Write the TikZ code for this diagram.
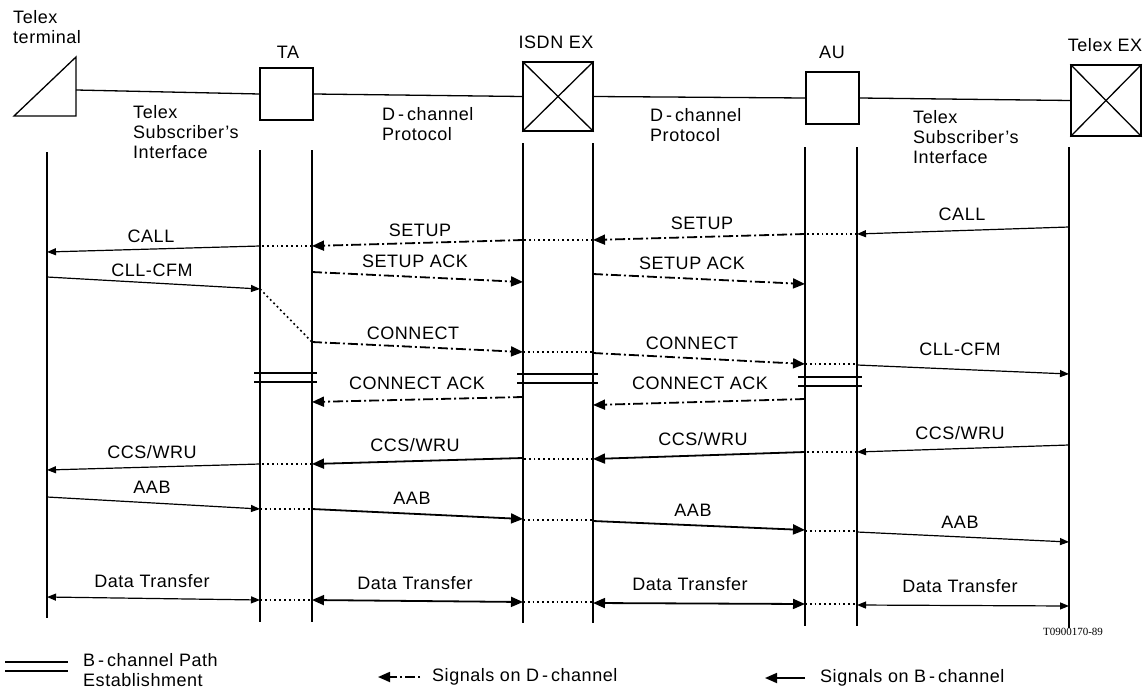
\documentclass[tikz,border=0pt]{standalone}
\usepackage{fontspec}
\setmainfont[LetterSpace=3]{Liberation Sans}
\newfontfamily\refserif{Liberation Serif}
\usetikzlibrary{arrows.meta}
\begin{document}
\begin{tikzpicture}[x=1pt,y=-1pt,
  lbl/.style={font=\fontsize{18}{20}\selectfont, inner sep=0pt},
  lblL/.style={lbl, anchor=west},
  life/.style={line width=1.3pt},
  boxst/.style={draw, line width=1.3pt, inner sep=0pt},
  dsig/.style={line width=1.8pt, dash pattern=on 10pt off 3pt on 2pt off 3pt, -{Triangle[length=12pt,width=10pt]}},
  bsig/.style={line width=1.2pt, -{Triangle[length=9pt,width=7pt]}},
  bsigk/.style={line width=1.8pt, -{Triangle[length=12pt,width=10pt]}},
  dtx/.style={line width=1.2pt, {Triangle[length=9pt,width=7pt]}-{Triangle[length=9pt,width=7pt]}},
  dtxk/.style={line width=1.8pt, {Triangle[length=12pt,width=10pt]}-{Triangle[length=12pt,width=10pt]}},
  dots/.style={line width=1.6pt, dash pattern=on 1.8pt off 3pt},
  bpath/.style={line width=1.4pt},
]
\useasboundingbox (0,0) rectangle (1147,690);
\def\pT{47}\def\pTAl{260}\def\pTAr{312}\def\pIl{523}\def\pIr{593}\def\pAl{805}\def\pAr{857}\def\pE{1069}

% ---------- entities ----------
\node[lblL, align=left] (termlbl) at (13,27) {Telex\\terminal};
\draw[line width=1.3pt] (14,116) -- (76,57) -- (76,116) -- cycle;
\coordinate (termR) at (76,90);
\node[boxst, minimum width=53pt, minimum height=52pt] (TA) at (286.5,94) {};
\node[lbl] (TAlbl) at (288,52) {TA};
\node[boxst, minimum width=70pt, minimum height=69pt] (ISDN) at (558,96.5) {};
\draw[line width=1.3pt] (ISDN.north west) -- (ISDN.south east) (ISDN.north east) -- (ISDN.south west);
\node[lbl] (ISDNlbl) at (556,42) {ISDN EX};
\node[boxst, minimum width=53pt, minimum height=52pt] (AU) at (832.5,98) {};
\node[lbl] (AUlbl) at (832,52) {AU};
\node[boxst, minimum width=70pt, minimum height=71pt] (EX) at (1106,100.5) {};
\draw[line width=1.3pt] (EX.north west) -- (EX.south east) (EX.north east) -- (EX.south west);
\node[lbl] (EXlbl) at (1105,45) {Telex EX};

\draw[line width=1.3pt] (termR) -- (TA.west);
\draw[line width=1.3pt] (TA.east) -- (ISDN.west);
\draw[line width=1.3pt] (ISDN.east) -- (AU.west);
\draw[line width=1.3pt] (AU.east) -- (EX.west);

\node[lblL, align=left] (if1) at (133,132) {Telex\\Subscriber's\\Interface};
\node[lblL, align=left] (dp1) at (382,124) {D\,-\,channel\\Protocol};
\node[lblL, align=left] (dp2) at (650,125) {D\,-\,channel\\Protocol};
\node[lblL, align=left] (if2) at (913,137) {Telex\\Subscriber's\\Interface};

% ---------- lifelines ----------
\draw[life] (\pT,152) coordinate (T-top) -- (\pT,618) coordinate (T-bot);
\draw[life] (\pTAl,150) coordinate (TAl-top) -- (\pTAl,622) coordinate (TAl-bot);
\draw[life] (\pTAr,150) coordinate (TAr-top) -- (\pTAr,622) coordinate (TAr-bot);
\draw[life] (\pIl,143) coordinate (Il-top) -- (\pIl,623) coordinate (Il-bot);
\draw[life] (\pIr,143) coordinate (Ir-top) -- (\pIr,623) coordinate (Ir-bot);
\draw[life] (\pAl,147) coordinate (Al-top) -- (\pAl,626) coordinate (Al-bot);
\draw[life] (\pAr,147) coordinate (Ar-top) -- (\pAr,626) coordinate (Ar-bot);
\draw[life] (\pE,147) coordinate (E-top) -- (\pE,628) coordinate (E-bot);

% ---------- CALL / SETUP ----------
\draw[bsig] (\pE,227) -- (\pAr,234);
\node[lbl] (l1) at (962,214) {CALL};
\draw[dots] (\pAr,234) -- (\pAl,234);
\draw[dsig] (\pAl,234) -- (\pIr,240);
\node[lbl] (l2) at (702,223) {SETUP};
\draw[dots] (\pIr,240) -- (\pIl,240);
\draw[dsig] (\pIl,240) -- (\pTAr,246);
\node[lbl] (l3) at (420,230) {SETUP};
\draw[dots] (\pTAr,246) -- (\pTAl,246);
\draw[bsig] (\pTAl,246) -- (\pT,252);
\node[lbl] (l4) at (151,236) {CALL};

% ---------- CLL-CFM / SETUP ACK ----------
\draw[bsig] (\pT,277) -- (\pTAl,289);
\node[lbl] (l5) at (152,270) {CLL-CFM};
\draw[dsig] (\pTAr,272) -- (\pIl,282);
\node[lbl] (l6) at (415,261) {SETUP ACK};
\draw[dsig] (\pIr,274) -- (\pAl,284);
\node[lbl] (l7) at (692,263) {SETUP ACK};
\draw[dots] (\pTAl,289) -- (\pTAr,342);

% ---------- CONNECT ----------
\draw[dsig] (\pTAr,342) -- (\pIl,352);
\node[lbl] (l8) at (413,333) {CONNECT};
\draw[dots] (\pIl,352) -- (\pIr,352);
\draw[dsig] (\pIr,353) -- (\pAl,364);
\node[lbl] (l9) at (692,343) {CONNECT};
\draw[dots] (\pAl,364) -- (\pAr,364);
\draw[bsig] (\pAr,365) -- (\pE,374);
\node[lbl] (l10) at (960,349) {CLL-CFM};

% ---------- B-channel path establishment ----------
\draw[bpath] (254,373) -- (317,373) (254,382) -- (317,382);
\draw[bpath] (517,374) -- (598,374) (517,383) -- (598,383);
\draw[bpath] (798,377) -- (862,377) (798,386) -- (862,386);

% ---------- CONNECT ACK ----------
\draw[dsig] (\pAl,399) -- (\pIr,405);
\node[lbl] (l11) at (700,383) {CONNECT ACK};
\draw[dsig] (\pIl,397) -- (\pTAr,402);
\node[lbl] (l12) at (417,383) {CONNECT ACK};

% ---------- CCS/WRU ----------
\draw[bsig] (\pE,445) -- (\pAr,452);
\node[lbl] (l13) at (960,433) {CCS/WRU};
\draw[dots] (\pAr,452) -- (\pAl,452);
\draw[bsigk] (\pAl,452) -- (\pIr,459);
\node[lbl] (l14) at (703,439) {CCS/WRU};
\draw[dots] (\pIr,459) -- (\pIl,459);
\draw[bsigk] (\pIl,458) -- (\pTAr,464);
\node[lbl] (l15) at (415,445) {CCS/WRU};
\draw[dots] (\pTAr,464) -- (\pTAl,464);
\draw[bsig] (\pTAl,464) -- (\pT,470);
\node[lbl] (l16) at (152,452) {CCS/WRU};

% ---------- AAB ----------
\draw[bsig] (\pT,497) -- (\pTAl,509);
\node[lbl] (l17) at (152,487) {AAB};
\draw[dots] (\pTAl,509) -- (\pTAr,509);
\draw[bsigk] (\pTAr,509) -- (\pIl,519);
\node[lbl] (l18) at (412,498) {AAB};
\draw[dots] (\pIl,520) -- (\pIr,520);
\draw[bsigk] (\pIr,521) -- (\pAl,530);
\node[lbl] (l19) at (693,510) {AAB};
\draw[dots] (\pAl,531) -- (\pAr,531);
\draw[bsig] (\pAr,532) -- (\pE,542);
\node[lbl] (l20) at (960,522) {AAB};

% ---------- Data Transfer ----------
\draw[dtx] (\pT,597) -- (\pTAl,600);
\node[lbl] (l21) at (152,581) {Data Transfer};
\draw[dots] (\pTAl,600) -- (\pTAr,600);
\draw[dtxk] (\pTAr,600) -- (\pIl,602);
\node[lbl] (l22) at (415,583) {Data Transfer};
\draw[dots] (\pIl,602) -- (\pIr,602);
\draw[dtxk] (\pIr,603) -- (\pAl,604);
\node[lbl] (l23) at (690,584) {Data Transfer};
\draw[dots] (\pAl,604) -- (\pAr,604);
\draw[dtx] (\pAr,605) -- (\pE,606);
\node[lbl] (l24) at (960,586) {Data Transfer};

\node[font=\refserif\fontsize{11}{13}\selectfont, inner sep=0pt] (ref) at (1073,632) {T0900170-89};

% ---------- legend ----------
\draw[bpath] (5,662) coordinate (lg1a) -- (68,662) coordinate (lg1b);
\draw[bpath] (5,671) coordinate (lg2a) -- (68,671) coordinate (lg2b);
\node[lblL, align=left] (lgB) at (83,670) {B\,-\,channel Path\\Establishment};
\draw[dsig, dash pattern=on 2pt off 3pt on 10pt off 3pt] (420,677) coordinate (lgDa) -- (378,677) coordinate (lgDb);
\node[lblL] (lgD) at (432,677) {Signals on D\,-\,channel};
\draw[bsigk] (805,678) coordinate (lgEa) -- (765,678) coordinate (lgEb);
\node[lblL] (lgE) at (820,678) {Signals on B\,-\,channel};
\end{tikzpicture}
\end{document}
